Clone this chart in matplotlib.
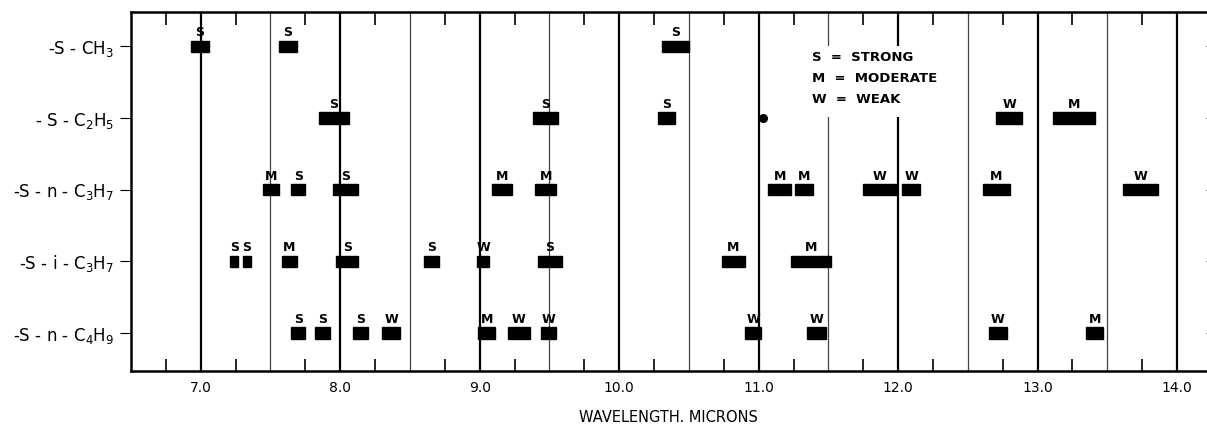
import numpy as np
import matplotlib
matplotlib.use("Agg")
import matplotlib.pyplot as plt
from matplotlib.patches import Rectangle

# row labels, top to bottom
groups = [r"-S - CH$_3$", r"- S - C$_2$H$_5$", r"-S - n - C$_3$H$_7$", r"-S - i - C$_3$H$_7$", r"-S - n - C$_4$H$_9$"]

# absorption bands per row: (start, end) in microns and intensity letter
ch3_bands = [(6.93, 7.06), (7.56, 7.69), (10.31, 10.50)]
ch3_marks = ["S", "S", "S"]

c2h5_bands = [(7.85, 8.06), (9.38, 9.56), (10.28, 10.40), (12.70, 12.89), (13.11, 13.41)]
c2h5_marks = ["S", "S", "S", "W", "M"]

nc3h7_bands = [(7.45, 7.56), (7.65, 7.75), (7.95, 8.13), (9.09, 9.23), (9.40, 9.55),
               (11.07, 11.23), (11.26, 11.39), (11.75, 11.99), (12.03, 12.16),
               (12.61, 12.80), (13.61, 13.86)]
nc3h7_marks = ["M", "S", "S", "M", "M", "M", "M", "W", "W", "M", "W"]

ic3h7_bands = [(7.21, 7.27), (7.30, 7.36), (7.58, 7.69), (7.97, 8.13), (8.60, 8.71),
               (8.98, 9.07), (9.42, 9.59), (10.74, 10.90), (11.23, 11.52)]
ic3h7_marks = ["S", "S", "M", "S", "S", "W", "S", "M", "M"]

nc4h9_bands = [(7.65, 7.75), (7.82, 7.93), (8.09, 8.20), (8.30, 8.43), (8.99, 9.11),
               (9.20, 9.36), (9.44, 9.55), (10.90, 11.02), (11.35, 11.48),
               (12.65, 12.78), (13.35, 13.47)]
nc4h9_marks = ["S", "S", "S", "W", "M", "W", "W", "W", "W", "W", "M"]

all_bands = [ch3_bands, c2h5_bands, nc3h7_bands, ic3h7_bands, nc4h9_bands]
all_marks = [ch3_marks, c2h5_marks, nc3h7_marks, ic3h7_marks, nc4h9_marks]

# small blot on the C2H5 row near 11.0
blot_x = [11.03]
blot_row = [1]

legend_lines = ["S  =  STRONG", "M  =  MODERATE", "W  =  WEAK"]
xtick_vals = [7.0, 8.0, 9.0, 10.0, 11.0, 12.0, 13.0, 14.0]

fig = plt.figure(figsize=(12.07, 4.29), dpi=100)
ax = fig.add_axes([0.1085, 0.135, 0.891, 0.837])

ax.set_xlim(6.5, 14.21)
ax.set_ylim(4.53, -0.48)

# vertical grid lines every half micron, heavier at whole microns
for x in np.arange(7.0, 14.01, 0.5):
    whole = abs(x - round(x)) < 1e-6
    ax.axvline(x, color="black" if whole else "#444444", lw=1.6 if whole else 0.9, zorder=1)

# white panel behind the key
ax.add_patch(Rectangle((11.36, -0.01), 0.95, 1.0, facecolor="white", edgecolor="none", zorder=2))
for i, line in enumerate(legend_lines):
    ax.text(11.38, 0.16 + i * 0.29, line, fontsize=9.5, fontweight="bold", va="center", ha="left", zorder=3)

bar_h = 0.16
for row, (bands, marks) in enumerate(zip(all_bands, all_marks)):
    for (x0, x1), m in zip(bands, marks):
        ax.add_patch(Rectangle((x0, row - bar_h / 2), x1 - x0, bar_h,
                               facecolor="black", edgecolor="black", zorder=4))
        ax.text((x0 + x1) / 2, row - bar_h / 2 - 0.02, m, fontsize=9, fontweight="bold",
                ha="center", va="bottom", zorder=5)

ax.scatter(blot_x, blot_row, s=30, color="black", zorder=4)

ax.set_yticks(range(len(groups)))
ax.set_yticklabels(groups, fontsize=12)
ax.set_xticks(xtick_vals)
ax.set_xticklabels([f"{v:.1f}" for v in xtick_vals], fontsize=10)
ax.set_xticks(np.arange(6.75, 14.2, 0.5), minor=True)
ax.tick_params(axis="x", which="major", length=0, pad=7)
ax.tick_params(axis="x", which="minor", direction="in", length=9, top=True, bottom=True, width=1.2)
ax.tick_params(axis="y", which="major", direction="out", length=8, left=True, right=True, pad=4)

ax.spines["right"].set_visible(False)
for s in ["left", "top", "bottom"]:
    ax.spines[s].set_linewidth(1.8)

ax.set_xlabel("WAVELENGTH. MICRONS", fontsize=10.5, labelpad=11)

fig.savefig("out.png", dpi=100)
